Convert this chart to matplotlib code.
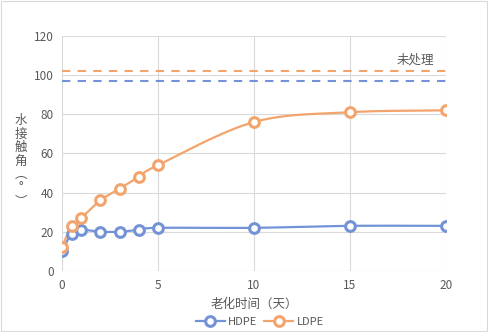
import matplotlib.pyplot as plt
import numpy as np

plt.rcParams['font.family'] = ['Noto Sans CJK SC', 'DejaVu Sans']

days = [0, 0.5, 1, 2, 3, 4, 5, 10, 15, 20]
hdpe = [10, 19, 21, 20, 20, 21, 22, 22, 23, 23]
ldpe = [12, 23, 27, 36, 42, 48, 54, 76, 81, 82]
hdpe_untreated = 97
ldpe_untreated = 102

blue = '#7393d6'
orange = '#f2a46c'
text_grey = '#595959'


def smooth(x, y, n=20):
    # Catmull-Rom curve through the points, like a spreadsheet smoothed line
    x = np.asarray(x, float)
    y = np.asarray(y, float)
    px = np.concatenate([[2 * x[0] - x[1]], x, [2 * x[-1] - x[-2]]])
    py = np.concatenate([[2 * y[0] - y[1]], y, [2 * y[-1] - y[-2]]])
    xs, ys = [], []
    t = np.linspace(0, 1, n)
    for i in range(1, len(px) - 2):
        for p, out in ((px, xs), (py, ys)):
            p0, p1, p2, p3 = p[i - 1:i + 3]
            out.extend(0.5 * (2 * p1 + (-p0 + p2) * t + (2 * p0 - 5 * p1 + 4 * p2 - p3) * t ** 2
                              + (-p0 + 3 * p1 - 3 * p2 + p3) * t ** 3))
    return xs, ys


fig = plt.figure(figsize=(4.88, 3.32), dpi=100)
fig.patches.append(plt.Rectangle((0.002, 0.003), 0.995, 0.993, transform=fig.transFigure,
                                 fill=False, edgecolor='#d9d9d9', linewidth=0.8))
ax = fig.add_axes([0.127, 0.184, 0.787, 0.708])

ax.axhline(hdpe_untreated, color=blue, linestyle=(0, (4, 3.5)), linewidth=1.5, zorder=2)
ax.axhline(ldpe_untreated, color=orange, linestyle=(0, (4, 3.5)), linewidth=1.5, zorder=2)
ax.text(19.4, 107.5, '未处理', ha='right', va='center', fontsize=9, color=text_grey)

for vals, c, name in ((hdpe, blue, 'HDPE'), (ldpe, orange, 'LDPE')):
    sx, sy = smooth(days, vals)
    ax.plot(sx, sy, color=c, linewidth=1.6, zorder=3)
    ax.plot(days, vals, linestyle='none', marker='o', markersize=7, markerfacecolor='white',
            markeredgecolor=c, markeredgewidth=2.2, zorder=4)
    ax.plot([], [], color=c, linewidth=1.6, marker='o', markersize=7, markerfacecolor='white',
            markeredgecolor=c, markeredgewidth=2.2, label=name)

ax.set_xlim(0, 20)
ax.set_ylim(0, 120)
ax.set_xticks([0, 5, 10, 15, 20])
ax.set_yticks(range(0, 121, 20))
ax.grid(True, color='#d9d9d9', linewidth=0.8)
ax.set_axisbelow(True)
for s in ax.spines.values():
    s.set_visible(False)
ax.tick_params(length=0, labelsize=8.5, labelcolor=text_grey, pad=6)

ax.set_xlabel('老化时间（天）', fontsize=9, color=text_grey, labelpad=4)
fig.text(0.042, 0.515, '水\n接\n触\n角\n︵\n°\n︶', ha='center', va='center', fontsize=9,
         color=text_grey, linespacing=1.05)

ax.legend(loc='upper center', bbox_to_anchor=(0.515, -0.155), ncol=2, frameon=False,
          fontsize=8, labelcolor=text_grey, handlelength=2.6, columnspacing=0.6, handletextpad=0.3)

fig.savefig('out.png', dpi=100)
